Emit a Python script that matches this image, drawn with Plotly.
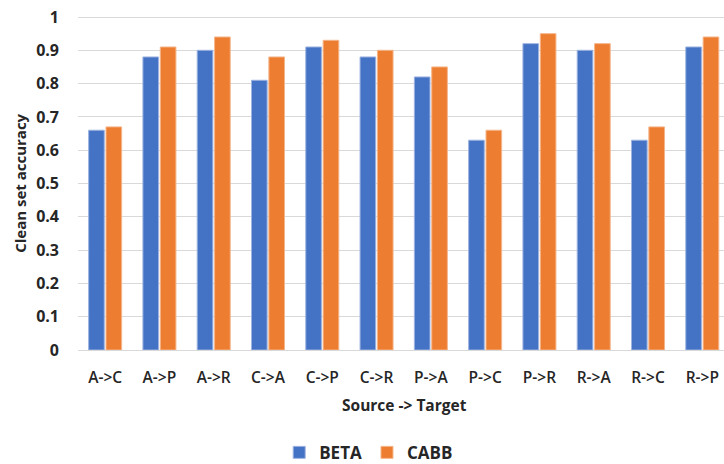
import plotly.graph_objects as go

categories = ["A->C", "A->P", "A->R", "C->A", "C->P", "C->R", "P->A", "P->C", "P->R", "R->A", "R->C", "R->P"]
beta = [0.66, 0.88, 0.90, 0.81, 0.91, 0.88, 0.82, 0.63, 0.92, 0.90, 0.63, 0.91]
cabb = [0.67, 0.91, 0.94, 0.88, 0.93, 0.90, 0.85, 0.66, 0.95, 0.92, 0.67, 0.94]

FONT = "Open Sans"
TXT = "#262626"

fig = go.Figure()
fig.add_trace(go.Bar(x=categories, y=beta, name="BETA", marker=dict(color="#4472C4", line=dict(color="#9db3e0", width=1))))
fig.add_trace(go.Bar(x=categories, y=cabb, name="CABB", marker=dict(color="#ED7D31", line=dict(color="#f5b58a", width=1))))

fig.update_layout(
    width=724, height=464,
    margin=dict(l=78, r=0, t=14, b=114, autoexpand=False),
    paper_bgcolor="white", plot_bgcolor="white",
    barmode="group", bargap=0.36, bargroupgap=0.1,
    font=dict(family=FONT, color=TXT),
    showlegend=True,
    legend=dict(orientation="h", x=0.45, xanchor="center", y=-0.306, yanchor="middle",
                font=dict(size=17, family=FONT, color=TXT, weight="bold"), itemwidth=30,
                traceorder="normal"),
    xaxis=dict(range=[-0.5, 11.4], showgrid=False, showline=False, ticks="", automargin=False,
               tickfont=dict(size=15.5, family=FONT, color=TXT, weight=600), ticklabelstandoff=16,
               ticklabeloverflow="allow"),
    yaxis=dict(range=[0, 1.009], dtick=0.1, tick0=0, showgrid=True, gridcolor="#d9d9d9", gridwidth=1,
               zeroline=True, zerolinecolor="#d9d9d9", zerolinewidth=1, automargin=False,
               tickfont=dict(size=16, family=FONT, color=TXT, weight="bold"), ticklabelstandoff=18,
               ticklabeloverflow="allow"),
    annotations=[
        dict(text="Source -> Target", xref="paper", yref="paper", x=0.505, y=-0.163, yanchor="middle",
             showarrow=False, font=dict(size=15.5, family=FONT, color=TXT, weight="bold")),
        dict(text="Clean set accuracy", xref="paper", yref="paper", x=-0.09, y=0.497, xanchor="center",
             yanchor="middle", textangle=-90, showarrow=False,
             font=dict(size=15, family=FONT, color=TXT, weight="bold")),
    ],
)

fig.write_html("out.html", config={"displayModeBar": False},
               post_script="document.body.style.margin='0px';document.body.style.overflow='hidden';")
